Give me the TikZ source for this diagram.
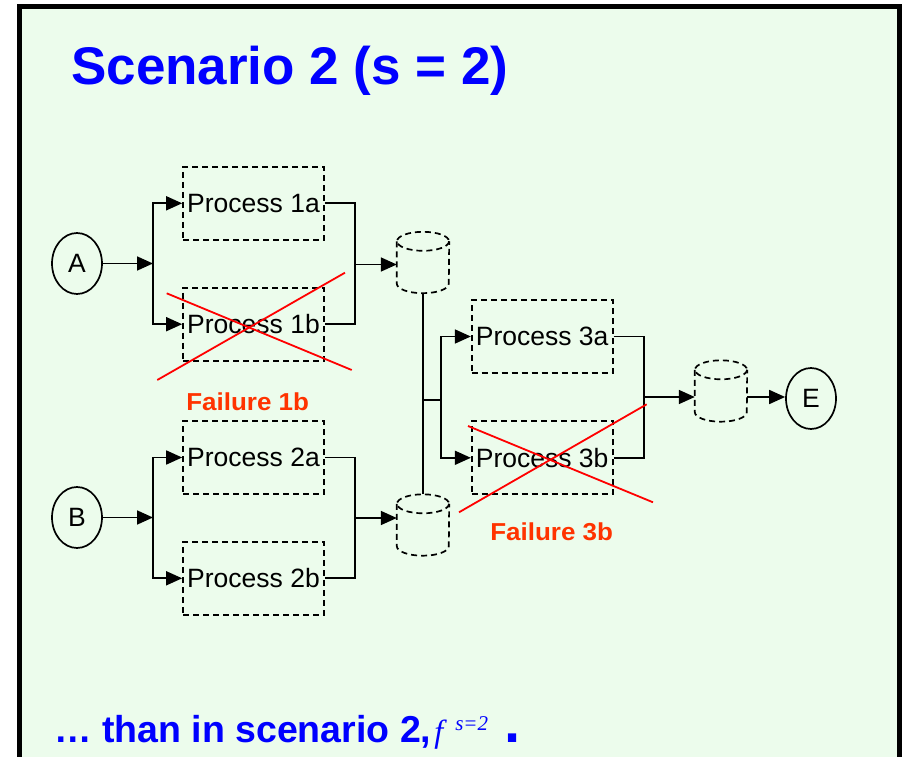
\documentclass[tikz,border=0pt]{standalone}
\usepackage{fontspec}
\setmainfont{Liberation Sans}
\newfontfamily\failfont{Liberation Sans}[FakeStretch=1.06]
\newfontfamily\serifit{Liberation Serif}
\usetikzlibrary{arrows.meta,calc,shapes.geometric}
\definecolor{slidegreen}{RGB}{236,252,236}
\definecolor{titleblue}{RGB}{0,0,255}
\definecolor{failred}{RGB}{255,51,0}
\definecolor{crossred}{RGB}{255,0,0}
\tikzset{
	procbox/.style={draw, line width=1.7pt, dash pattern=on 6pt off 4pt, minimum width=141pt, minimum height=73pt, inner sep=0pt, font=\fontsize{26.5}{30}\selectfont},
	storebox/.style={minimum width=52pt, minimum height=61pt, inner sep=0pt},
	storeline/.style={line width=1.7pt, dash pattern=on 6pt off 4pt},
	endpoint/.style={ellipse, draw, line width=1.7pt, minimum width=50pt, minimum height=61pt, inner sep=0pt, font=\fontsize{26.5}{30}\selectfont},
	wire/.style={line width=1.7pt},
	flow/.style={line width=1.7pt, -{Triangle[length=16pt,width=14pt]}},
	cross/.style={line width=1.8pt, color=crossred},
	failnote/.style={anchor=base, text=failred, font=\failfont\bfseries\fontsize{24.5}{29}\selectfont},
}
\def\storedrum[#1](#2){%
	\draw[#1] ($(#2.north west)+(0,9.5)$) -- ($(#2.south west)+(0,-9.5)$) arc[start angle=180, end angle=0, x radius=26, y radius=9.5] -- ($(#2.north east)+(0,9.5)$);
	\draw[#1] ($(#2.north)+(0,9.5)$) ellipse[x radius=26, y radius=9.5];
}

\begin{document}
\begin{tikzpicture}[x=1pt,y=-1pt]
			%%%%% START %%%%%
			
			\useasboundingbox (0,0) rectangle (903,757);
			\fill[white] (0,0) rectangle (903,757);
			\fill[slidegreen] (19.2,6.5) rectangle (899.8,759);
			\draw[line width=5pt] (19.2,6.5) rectangle (899.8,759);
			
			\node[anchor=base west, inner sep=0pt, text=titleblue, font=\bfseries\fontsize{53}{60}\selectfont] (title) at (71,85) {Scenario 2 (s = 2)};
			
			\node[endpoint] (A) at (77,263.5) {A};
			\node[endpoint] (B) at (77,517.5) {B};
			\node[endpoint] (E) at (811,398.5) {E};
			
			\node[procbox] (p1a) at (253.5,203.3) {Process 1a};
			\node[procbox] (p1b) at (253.5,324.2) {Process 1b};
			\node[procbox] (p2a) at (253.5,457.5) {Process 2a};
			\node[procbox] (p2b) at (253.5,578.3) {Process 2b};
			\node[procbox] (p3a) at (542.2,336.5) {Process 3a};
			\node[procbox] (p3b) at (542.2,457.8) {Process 3b};
			
			\node[storebox] (s1) at (423,262.5) {};
			\node[storebox] (s2) at (423,525) {};
			\node[storebox] (s3) at (721,391) {};
			\storedrum[storeline](s1);
			\storedrum[storeline](s2);
			\storedrum[storeline](s3);
			
			\coordinate (jA) at (153,263.5);
			\coordinate (jB) at (153,517.5);
			\coordinate (m1) at (355,264.5);
			\coordinate (m2) at (355,518);
			\coordinate (j3) at (423,400);
			\coordinate (k3) at (441,400);
			\coordinate (m3) at (644,397);
			
			% inputs
			\draw[flow] (A) -- (jA);
			\draw[flow] (jA) |- (p1a.west);
			\draw[flow] (jA) |- (p1b.west);
			\draw[flow] (B) -- (jB);
			\draw[flow] (jB) |- (p2a.west);
			\draw[flow] (jB) |- (p2b.west);
			
			% outputs to the stores
			\draw[wire] (p1a.east) -| (m1) |- (p1b.east);
			\draw[flow] (m1) -- (m1 -| s1.west);
			\draw[wire] (p2a.east) -| (m2) |- (p2b.east);
			\draw[flow] (m2) -- (m2 -| s2.west);
			
			\draw[wire] (s1) -- (s2);
			\draw[wire] (j3) -- (k3);
			\draw[flow] (k3) |- (p3a.west);
			\draw[flow] (k3) |- (p3b.west);
			\draw[wire] (p3a.east) -| (m3) |- (p3b.east);
			\draw[flow] (m3) -- (m3 -| s3.west);
			\draw[flow] (s3.east |- m3) -- (E.west |- m3);
			
			% failures
			\draw[cross] (166.7,293.3) -- (351.7,370);
			\draw[cross] (157.3,380) -- (345,272.7);
			\draw[cross] (468,426) -- (653,502.3);
			\draw[cross] (459,512.3) -- (646.7,404.3);
			\node[failnote] (f1b) at (247.7,410) {Failure 1b};
			\node[failnote] (f3b) at (551.7,540) {Failure 3b};
			
			\node[anchor=base west, inner sep=0pt, text=titleblue, font=\bfseries\fontsize{37.5}{44}\selectfont] (note) at (54,742) {… than in scenario 2,\hspace{3pt}{\serifit\mdseries\itshape\fontsize{32}{34}\selectfont f}\hspace{12pt}\raisebox{12pt}{\serifit\mdseries\itshape\fontsize{21}{22}\selectfont s=2}\hspace{16pt}{\fontsize{58}{60}\selectfont .}};
			
			%%%%% END %%%%%
		\end{tikzpicture}
\end{document}
